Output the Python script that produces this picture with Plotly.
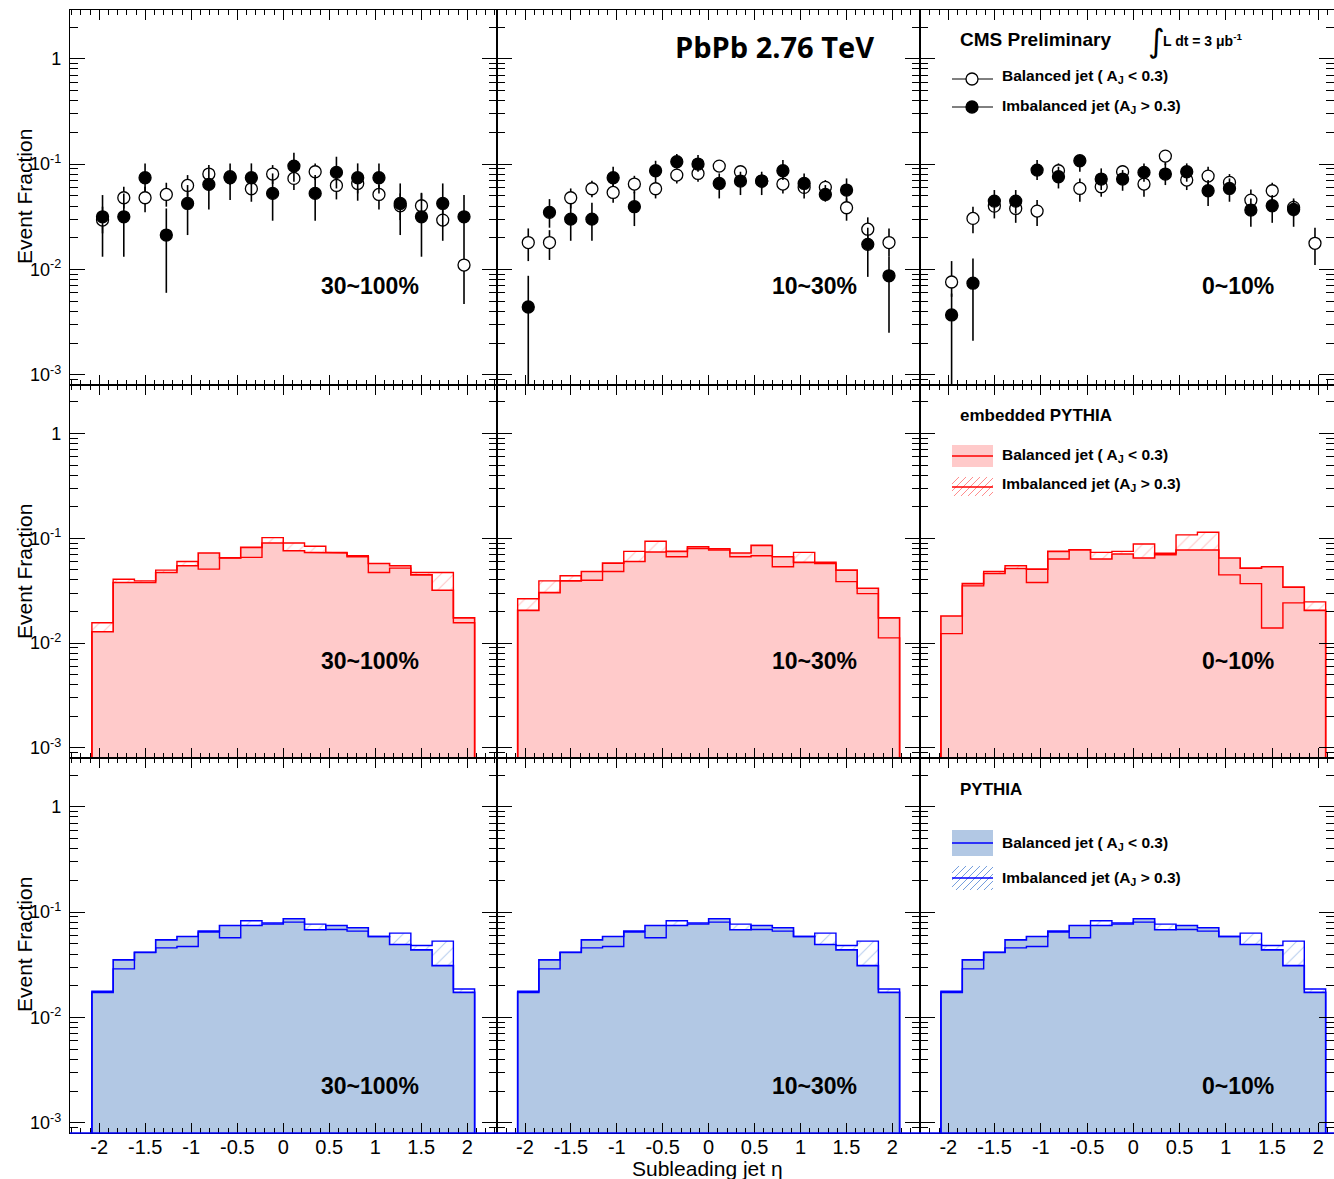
import math
import plotly.graph_objects as go

# ---------------- data ----------------
eta_centers = [-1.9644, -1.7333, -1.5022, -1.2711, -1.0400, -0.8089, -0.5778, -0.3467, -0.1156,
               0.1156, 0.3467, 0.5778, 0.8089, 1.0400, 1.2711, 1.5022, 1.7333, 1.9644]
bin_width = 0.2311

centrality_labels = ["30~100%", "10~30%", "0~10%"]

# PbPb data (top row): balanced (open) and imbalanced (filled); value, upper end, lower end of error bar
data_bal_y = [
    [0.0294, 0.0479, 0.0479, 0.0515, 0.0627, 0.0804, 0.0758, 0.0583, 0.0804, 0.0731, 0.0846, 0.0627, 0.0655, 0.0515, 0.0402, 0.0402, 0.0294, 0.0110],
    [0.0180, 0.0180, 0.0479, 0.0583, 0.0538, 0.0646, 0.0583, 0.0786, 0.0815, 0.0957, 0.0846, 0.0690, 0.0646, 0.0601, 0.0601, 0.0385, 0.0241, 0.0180],
    [0.0076, 0.0305, 0.0399, 0.0379, 0.0358, 0.0864, 0.0587, 0.0609, 0.0846, 0.0646, 0.1191, 0.0705, 0.0769, 0.0670, 0.0455, 0.0558, 0.0388, 0.0177],
]
data_bal_hi = [
    [0.0394, 0.0609, 0.0609, 0.0665, 0.0786, 0.0978, 0.0877, 0.0705, 0.0978, 0.0877, 0.1015, 0.0786, 0.0786, 0.0632, 0.0527, 0.0527, 0.0423, 0.0190],
    [0.0245, 0.0236, 0.0587, 0.0695, 0.0680, 0.0774, 0.0705, 0.0910, 0.0978, 0.1052, 0.0943, 0.0786, 0.0758, 0.0705, 0.0705, 0.0472, 0.0312, 0.0245],
    [0.0120, 0.0394, 0.0508, 0.0490, 0.0455, 0.1015, 0.0731, 0.0758, 0.0978, 0.0758, 0.1358, 0.0846, 0.0943, 0.0804, 0.0575, 0.0665, 0.0455, 0.0249],
]
data_bal_lo = [
    [0.0220, 0.0379, 0.0348, 0.0394, 0.0490, 0.0655, 0.0632, 0.0439, 0.0646, 0.0567, 0.0705, 0.0462, 0.0449, 0.0371, 0.0294, 0.0294, 0.0187, 0.0047],
    [0.0120, 0.0123, 0.0379, 0.0483, 0.0430, 0.0527, 0.0472, 0.0655, 0.0680, 0.0846, 0.0731, 0.0587, 0.0527, 0.0472, 0.0490, 0.0290, 0.0197, 0.0132],
    [0.0055, 0.0220, 0.0305, 0.0277, 0.0258, 0.0705, 0.0439, 0.0490, 0.0705, 0.0490, 0.0978, 0.0567, 0.0609, 0.0546, 0.0366, 0.0455, 0.0316, 0.0110],
]
data_imb_y = [
    [0.0316, 0.0316, 0.0742, 0.0212, 0.0423, 0.0641, 0.0742, 0.0742, 0.0527, 0.0957, 0.0527, 0.0834, 0.0742, 0.0742, 0.0423, 0.0316, 0.0423, 0.0316],
    [0.0044, 0.0348, 0.0300, 0.0300, 0.0742, 0.0394, 0.0864, 0.1052, 0.1000, 0.0655, 0.0690, 0.0690, 0.0864, 0.0655, 0.0515, 0.0567, 0.0173, 0.0087],
    [0.0037, 0.0074, 0.0445, 0.0445, 0.0877, 0.0758, 0.1075, 0.0721, 0.0721, 0.0834, 0.0804, 0.0846, 0.0558, 0.0587, 0.0366, 0.0402, 0.0371, None],
]
data_imb_hi = [
    [0.0508, 0.0527, 0.1015, 0.0379, 0.0632, 0.0910, 0.1015, 0.1015, 0.0815, 0.1281, 0.0786, 0.1174, 0.1015, 0.1015, 0.0655, 0.0534, 0.0655, 0.0508],
    [0.0087, 0.0465, 0.0423, 0.0430, 0.0943, 0.0546, 0.1075, 0.1244, 0.1217, 0.0815, 0.0846, 0.0846, 0.1091, 0.0815, 0.0632, 0.0731, 0.0249, 0.0132],
    [0.0059, 0.0127, 0.0567, 0.0567, 0.1091, 0.0943, 0.1191, 0.0910, 0.0877, 0.1015, 0.1015, 0.1015, 0.0705, 0.0731, 0.0472, 0.0508, 0.0472, None],
]
data_imb_lo = [
    [0.0132, 0.0132, 0.0546, 0.0060, 0.0212, 0.0371, 0.0455, 0.0508, 0.0290, 0.0680, 0.0290, 0.0587, 0.0527, 0.0527, 0.0212, 0.0132, 0.0254, 0.0190],
    [0.0005, 0.0249, 0.0187, 0.0187, 0.0609, 0.0258, 0.0705, 0.0910, 0.0846, 0.0472, 0.0508, 0.0508, 0.0705, 0.0527, 0.0439, 0.0439, 0.0085, 0.0025],
    [0.0004, 0.0021, 0.0353, 0.0340, 0.0705, 0.0587, 0.0846, 0.0567, 0.0558, 0.0680, 0.0632, 0.0680, 0.0399, 0.0439, 0.0254, 0.0277, 0.0254, None],
]

# embedded PYTHIA (middle row)
emb_bal = [
    [0.0128, 0.0378, 0.0378, 0.0471, 0.0546, 0.0723, 0.0652, 0.0819, 0.0902, 0.0761, 0.0733, 0.0723, 0.0666, 0.0575, 0.0546, 0.0447, 0.0319, 0.0174],
    [0.0205, 0.0303, 0.0392, 0.0481, 0.0579, 0.0601, 0.0739, 0.0750, 0.0831, 0.0795, 0.0723, 0.0856, 0.0666, 0.0588, 0.0588, 0.0496, 0.0333, 0.0174],
    [0.0181, 0.0369, 0.0461, 0.0515, 0.0507, 0.0750, 0.0777, 0.0633, 0.0707, 0.0647, 0.0718, 0.0772, 0.0772, 0.0647, 0.0519, 0.0534, 0.0342, 0.0205],
]
emb_imb = [
    [0.0156, 0.0406, 0.0392, 0.0496, 0.0601, 0.0507, 0.0647, 0.0657, 0.1015, 0.0902, 0.0838, 0.0733, 0.0681, 0.0471, 0.0519, 0.0471, 0.0471, 0.0156],
    [0.0265, 0.0392, 0.0438, 0.0398, 0.0481, 0.0750, 0.0936, 0.0666, 0.0799, 0.0773, 0.0666, 0.0681, 0.0534, 0.0733, 0.0575, 0.0386, 0.0296, 0.0112],
    [0.0123, 0.0351, 0.0481, 0.0546, 0.0378, 0.0633, 0.0777, 0.0733, 0.0750, 0.0882, 0.0697, 0.1076, 0.1142, 0.0447, 0.0369, 0.0139, 0.0242, 0.0247],
]

# PYTHIA (bottom row, same in every centrality panel)
pyt_bal = [0.0173, 0.0352, 0.0416, 0.0545, 0.0587, 0.0659, 0.0746, 0.0746, 0.0770, 0.0864, 0.0679, 0.0746, 0.0710, 0.0587, 0.0492, 0.0438, 0.0310, 0.0173]
pyt_imb = [0.0177, 0.0289, 0.0413, 0.0457, 0.0471, 0.0645, 0.0570, 0.0827, 0.0790, 0.0803, 0.0769, 0.0684, 0.0659, 0.0587, 0.0631, 0.0481, 0.0530, 0.0186]

x_tick_values = [-2, -1.5, -1, -0.5, 0, 0.5, 1, 1.5, 2]
y_tick_values = [0.001, 0.01, 0.1, 1]
y_tick_text = ["10<sup>-3</sup>", "10<sup>-2</sup>", "10<sup>-1</sup>", "1"]

# ---------------- layout geometry ----------------
W, H = 1334, 1179


def px(X):
    return X / W


def py(Y):
    return 1 - Y / H


col_px = [(70, 497), (497, 920), (920, 1334)]
row_px = [(10, 385), (385, 758), (758, 1133)]
x_ranges = [[-2.318, 2.323], [-2.305, 2.302], [-2.306, 2.17]]
y_range = [math.log10(8e-4), math.log10(2.9)]

FONT = "Liberation Sans, Arial, sans-serif"
RED = "#ff0000"
PINK = "rgb(255,202,202)"
RED_HATCH = "rgba(255,120,120,0.85)"
BLUE = "#0000ff"
LBLUE = "rgb(178,200,228)"
BLUE_HATCH = "rgba(90,140,215,0.85)"

edges = [c - bin_width / 2 for c in eta_centers] + [eta_centers[-1] + bin_width / 2]
minor_y = [m * 10 ** e for e in range(-4, 1) for m in range(2, 10)]

fig = go.Figure()
axes_layout = {}
for r in range(3):
    for c in range(3):
        k = r * 3 + c + 1
        sfx = "" if k == 1 else str(k)
        axes_layout["xaxis" + sfx] = dict(
            domain=[px(col_px[c][0]), px(col_px[c][1])], range=x_ranges[c], anchor="y" + sfx,
            showline=True, linecolor="black", linewidth=1.2, mirror="allticks",
            ticks="inside", ticklen=10, tickwidth=1, tickcolor="black",
            tickmode="array", tickvals=x_tick_values, ticktext=[f"{v:g}" for v in x_tick_values],
            minor=dict(ticks="inside", ticklen=5, dtick=0.1, tick0=0, tickcolor="black", tickwidth=1),
            showgrid=False, zeroline=False, showticklabels=(r == 2), automargin=False,
            tickfont=dict(family=FONT, size=20, color="black"), ticklabelstandoff=-4,
        )
        axes_layout["yaxis" + sfx] = dict(
            domain=[py(row_px[r][1]), py(row_px[r][0])], type="log", range=y_range, anchor="x" + sfx,
            showline=True, linecolor="black", linewidth=1.2, mirror="allticks",
            ticks="inside", ticklen=15, tickwidth=1, tickcolor="black",
            tickmode="array", tickvals=y_tick_values, ticktext=y_tick_text,
            minor=dict(ticks="inside", ticklen=8, tickvals=minor_y, tickcolor="black", tickwidth=1),
            showgrid=False, zeroline=False, showticklabels=(c == 0), automargin=False,
            tickfont=dict(family=FONT, size=18, color="black"), ticklabelstandoff=4,
        )


def axrefs(k):
    sfx = "" if k == 1 else str(k)
    return "x" + sfx, "y" + sfx


def step_poly(values, base=1e-5):
    xs, ys = [edges[0]], [base]
    for i, v in enumerate(values):
        xs += [edges[i], edges[i + 1]]
        ys += [v, v]
    xs.append(edges[-1])
    ys.append(base)
    return xs, ys


def err_up(y, hi):
    return [None if v is None else h - v for v, h in zip(y, hi)]


def err_dn(y, lo):
    return [None if v is None else v - l for v, l in zip(y, lo)]


# top row: data points
for c in range(3):
    xr, yr = axrefs(c + 1)
    for ys, his, los, fill in [(data_bal_y, data_bal_hi, data_bal_lo, "white"),
                               (data_imb_y, data_imb_hi, data_imb_lo, "black")]:
        fig.add_trace(go.Scatter(
            x=eta_centers, y=ys[c], mode="markers", xaxis=xr, yaxis=yr, showlegend=False,
            marker=dict(symbol="circle", size=12, color=fill, line=dict(color="black", width=1.3)),
            error_y=dict(type="data", symmetric=False, array=err_up(ys[c], his[c]),
                         arrayminus=err_dn(ys[c], los[c]), color="black", thickness=1.6, width=0),
        ))


def add_hist_pair(k, bal, imb, line_col, fill_col, hatch_col):
    xr, yr = axrefs(k)
    ix, iy = step_poly(imb)
    bx, by = step_poly(bal)
    fig.add_trace(go.Scatter(
        x=ix, y=iy, mode="none", fill="toself", fillcolor="rgba(0,0,0,0)", xaxis=xr, yaxis=yr,
        showlegend=False, hoverinfo="skip",
        fillpattern=dict(shape="/", fgcolor=hatch_col, bgcolor="rgba(0,0,0,0)", size=9, solidity=0.12),
    ))
    fig.add_trace(go.Scatter(
        x=bx, y=by, mode="lines", fill="toself", fillcolor=fill_col, xaxis=xr, yaxis=yr,
        line=dict(color=line_col, width=1.6), showlegend=False,
    ))
    fig.add_trace(go.Scatter(
        x=ix, y=iy, mode="lines", xaxis=xr, yaxis=yr,
        line=dict(color=line_col, width=1.4), showlegend=False,
    ))


for c in range(3):
    add_hist_pair(4 + c, emb_bal[c], emb_imb[c], RED, PINK, RED_HATCH)
    add_hist_pair(7 + c, pyt_bal, pyt_imb, BLUE, LBLUE, BLUE_HATCH)

# ---------------- annotations ----------------
ann = []


def text(X, Y, s, size, xanchor="center", family=FONT, angle=0):
    ann.append(dict(x=px(X), y=py(Y), xref="paper", yref="paper", text=s, showarrow=False,
                    xanchor=xanchor, yanchor="middle", textangle=angle,
                    font=dict(family=family, size=size, color="black")))


col_label_x = [370, 814, 1238]
row_label_y = [286, 661, 1086]
for r in range(3):
    for c in range(3):
        text(col_label_x[c], row_label_y[r], f"<b>{centrality_labels[c]}</b>", 23)
    text(24, [197, 572, 945][r], "Event Fraction", 21, angle=-90)

text(707, 1168, "Subleading jet η", 21)
text(774, 46, "<b>PbPb 2.76 TeV</b>", 29, family="Open Sans, DejaVu Sans, sans-serif")
text(958, 40, "<b>CMS Preliminary</b>", 19, xanchor="left")
text(1156, 41, "∫", 32, family="DejaVu Sans, sans-serif")
text(1161, 40, "<b>L dt = 3 μb<sup>-1</sup></b>", 14, xanchor="left")
text(958, 415, "<b>embedded PYTHIA</b>", 17, xanchor="left")
text(958, 789, "<b>PYTHIA</b>", 17, xanchor="left")

bal_txt = "<b>Balanced jet ( A<sub>J</sub> &lt; 0.3)</b>"
imb_txt = "<b>Imbalanced jet (A<sub>J</sub> &gt; 0.3)</b>"
for y1, y2 in [(76, 106), (455, 485), (843, 878)]:
    text(1000, y1, bal_txt, 15.5, xanchor="left")
    text(1000, y2, imb_txt, 15.5, xanchor="left")

# ---------------- legend glyphs ----------------
shapes = []


def pline(X0, Y0, X1, Y1, color, width):
    shapes.append(dict(type="line", xref="paper", yref="paper", x0=px(X0), y0=py(Y0), x1=px(X1), y1=py(Y1),
                       line=dict(color=color, width=width), layer="above"))


def prect(X0, Y0, X1, Y1, fill):
    shapes.append(dict(type="rect", xref="paper", yref="paper", x0=px(X0), y0=py(Y1), x1=px(X1), y1=py(Y0),
                       fillcolor=fill, line=dict(width=0), layer="above"))


def pcircle(Xc, Yc, rad, fill):
    shapes.append(dict(type="circle", xref="paper", yref="paper", x0=px(Xc - rad), y0=py(Yc + rad),
                       x1=px(Xc + rad), y1=py(Yc - rad), fillcolor=fill,
                       line=dict(color="black", width=1.3), layer="above"))


def phatch(X0, Y0, X1, Y1, color, step=7):
    w, h = X1 - X0, Y1 - Y0
    segs = []
    s = -h
    while s < w:
        sx, sy = X0 + s, Y1
        ex, ey = X0 + s + h, Y0
        if sx < X0:
            d = X0 - sx
            sx, sy = X0, Y1 - d
        if ex > X1:
            d = ex - X1
            ex, ey = X1, Y0 + d
        if sx < ex:
            segs.append(f"M{px(sx):.5f},{py(sy):.5f} L{px(ex):.5f},{py(ey):.5f}")
        s += step
    shapes.append(dict(type="path", xref="paper", yref="paper", path=" ".join(segs),
                       line=dict(color=color, width=1), layer="above"))


# top legend
pline(952, 79, 993, 79, "black", 1)
pcircle(972, 79, 6, "white")
pline(952, 107, 993, 107, "black", 1)
pcircle(972, 107, 6, "black")
# middle legend
prect(952, 445, 993, 467, PINK)
pline(952, 456, 993, 456, RED, 1.6)
phatch(952, 477, 993, 496, RED_HATCH)
pline(952, 487, 993, 487, RED, 1.6)
# bottom legend
prect(952, 830, 993, 856, LBLUE)
pline(952, 843, 993, 843, BLUE, 1.6)
phatch(952, 866, 993, 890, BLUE_HATCH)
pline(952, 878, 993, 878, BLUE, 1.6)
# blue histogram baseline along bottom frame
pline(70, 1133, 1334, 1133, BLUE, 1.5)

fig.update_layout(
    width=W, height=H, autosize=False,
    margin=dict(l=0, r=0, t=0, b=0),
    paper_bgcolor="white", plot_bgcolor="white",
    showlegend=False,
    annotations=ann, shapes=shapes,
    **axes_layout,
)

fig.write_html("out.html")
